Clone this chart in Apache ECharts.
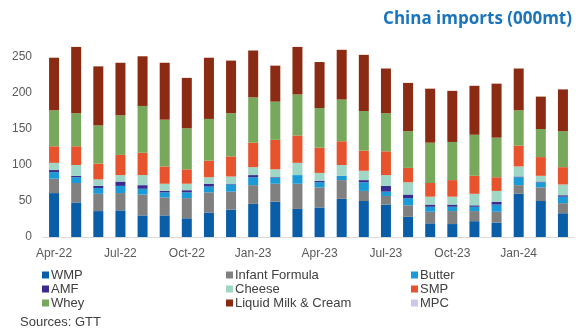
<!DOCTYPE html>
<html>
<head>
<meta charset="utf-8">
<script src="https://cdn.jsdelivr.net/npm/echarts@6/dist/echarts.min.js"></script>
<style>
  html, body { margin: 0; padding: 0; background: #fff; }
  #chart { width: 579px; height: 334px; }
</style>
</head>
<body>
<div id="chart"></div>
<script>
// Monthly categories, Apr-22 .. Mar-24
const months = ['Apr-22','May-22','Jun-22','Jul-22','Aug-22','Sep-22','Oct-22','Nov-22','Dec-22',
  'Jan-23','Feb-23','Mar-23','Apr-23','May-23','Jun-23','Jul-23','Aug-23','Sep-23',
  'Oct-23','Nov-23','Dec-23','Jan-24','Feb-24','Mar-24'];

// China dairy imports by product, thousand tonnes
const wmp      = [61,48,36,37,30,30,26,34,38,46,49,39,41,53,50,45,28,19,18,22,20,60,50,33];
const infant   = [20,27,24,24,29,25,28,28,25,26,25,35,28,26,14,12,16,16,18,14,15,12,19,14];
const butter   = [9,8,8,10,8,7,8,8,10,11,8,12,7,6,12,6,10,7,6,6,10,11,7,9];
const amf      = [3,2,3,6,5,2,3,4,1,3,1,0,2,0,3,8,5,3,3,2,4,1,1,2];
const cheese   = [10,15,9,9,14,10,9,9,10,11,11,17,11,15,13,15,17,11,11,16,15,14,8,15];
const smp      = [23,26,22,28,31,24,20,23,28,34,41,38,35,33,28,33,20,19,23,25,19,29,26,24];
const whey     = [50,46,53,55,65,65,57,58,60,63,53,57,55,58,55,53,51,56,53,57,55,49,39,50];
const liquid   = [73,92,82,73,69,79,70,85,73,65,50,66,64,69,78,62,67,75,71,68,75,58,45,58];
const mpc      = [0,0,0,0,0,0,0,0,0,0,0,0,0,0,0,0,0,0,0,0,0,0,0,0];

// Axis ticks
const yTicks = { min: 0, max: 300, interval: 50, lastShown: 250 };

const seriesDefs = [
  { name: 'WMP', data: wmp, color: '#0a5ea8' },
  { name: 'Infant Formula', data: infant, color: '#808080' },
  { name: 'Butter', data: butter, color: '#1a9ad6' },
  { name: 'AMF', data: amf, color: '#3a2b8e' },
  { name: 'Cheese', data: cheese, color: '#9fd6c6' },
  { name: 'SMP', data: smp, color: '#e6532d' },
  { name: 'Whey', data: whey, color: '#78a85b' },
  { name: 'Liquid Milk & Cream', data: liquid, color: '#8b2b14' },
  { name: 'MPC', data: mpc, color: '#cbc8ef' }
];

const legendCols = [
  ['WMP', 'AMF', 'Whey'],
  ['Infant Formula', 'Cheese', 'Liquid Milk & Cream'],
  ['Butter', 'SMP', 'MPC']
];
const legendLeft = [42, 226, 411];

const chart = echarts.init(document.getElementById('chart'), null, { renderer: 'canvas' });

const axisText = { color: '#595959', fontSize: 12, fontFamily: 'Liberation Sans, Arial, sans-serif' };

chart.setOption({
  animation: false,
  title: {
    text: 'China imports (000mt)',
    right: 2,
    top: 6,
    textStyle: { color: '#1b75bc', fontSize: 17, fontWeight: 'bold', fontFamily: 'Open Sans, sans-serif' }
  },
  grid: { left: 43, right: 5, top: 21, bottom: 97 },
  legend: legendCols.map((col, i) => ({
    data: col,
    orient: 'vertical',
    left: legendLeft[i],
    top: 268,
    icon: 'rect',
    itemWidth: 7,
    itemHeight: 7,
    itemGap: 0,
    padding: 0,
    selectedMode: false,
    textStyle: { color: '#404040', fontSize: 13, lineHeight: 14, fontFamily: 'Liberation Sans, Arial, sans-serif', padding: [0, 0, 0, -3] }
  })),
  xAxis: {
    type: 'category',
    data: months,
    axisLine: { lineStyle: { color: '#d9d9d9', width: 1 } },
    axisTick: { interval: 2, length: 4, lineStyle: { color: '#d9d9d9' } },
    axisLabel: Object.assign({ interval: 2, margin: 11 }, axisText)
  },
  yAxis: {
    type: 'value',
    min: yTicks.min,
    max: yTicks.max,
    interval: yTicks.interval,
    splitLine: { show: false },
    axisLine: { show: false },
    axisTick: { show: false },
    axisLabel: Object.assign({
      margin: 11,
      formatter: v => (v > yTicks.lastShown ? '' : String(v))
    }, axisText)
  },
  graphic: [{
    type: 'text',
    left: 20,
    top: 316,
    style: { text: 'Sources: GTT', fill: '#404040', fontSize: 13, fontFamily: 'Liberation Sans, Arial, sans-serif' }
  }],
  series: seriesDefs.map(s => ({
    name: s.name,
    type: 'bar',
    stack: 'imports',
    barWidth: 10,
    data: s.data,
    itemStyle: { color: s.color }
  }))
});
</script>
</body>
</html>
